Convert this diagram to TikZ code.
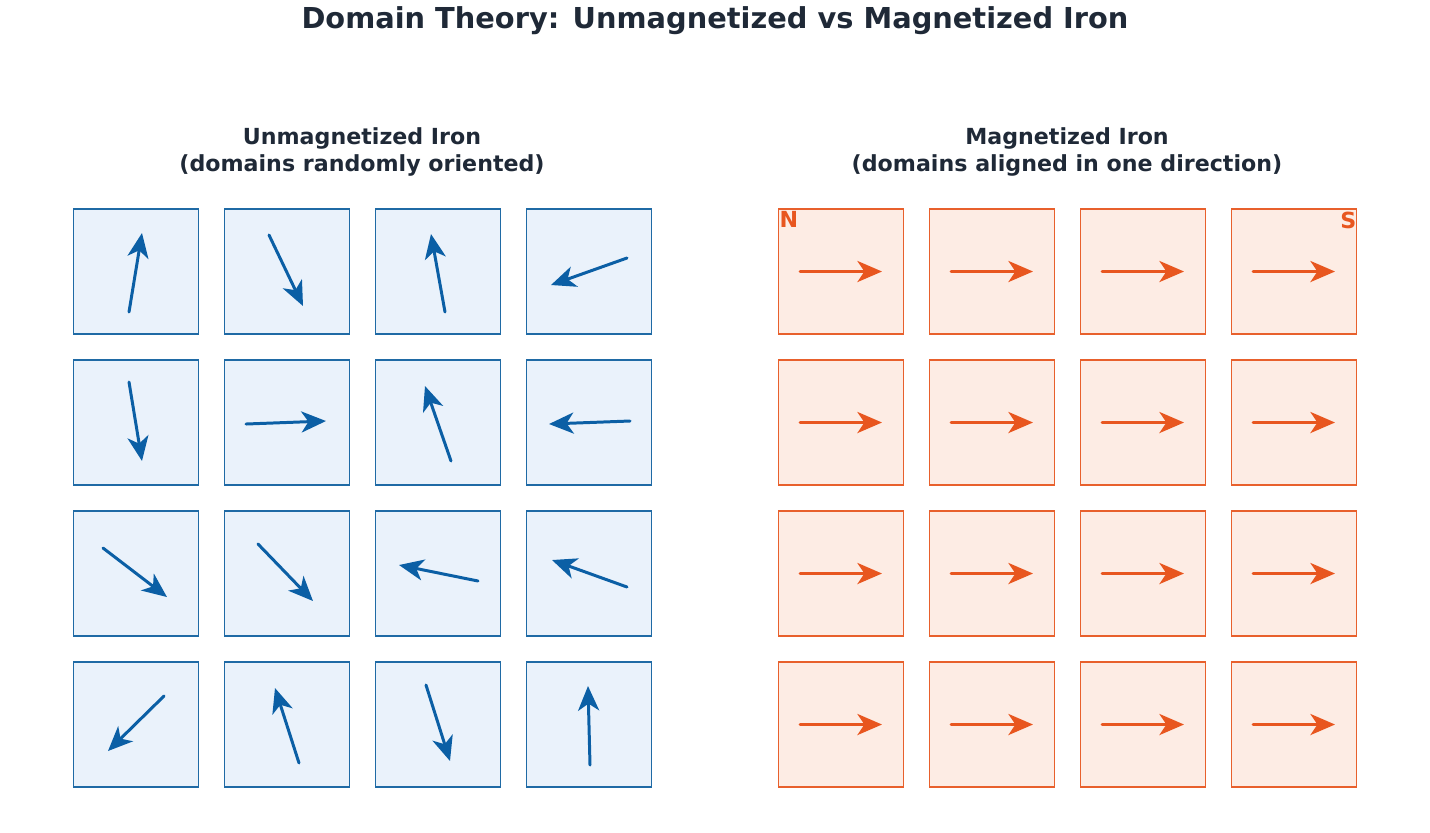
\documentclass[tikz,border=0pt]{standalone}
\usepackage{fontspec}
\setmainfont{DejaVu Sans}
\usetikzlibrary{arrows.meta}
\definecolor{ink}{HTML}{1F2937}
\definecolor{lfill}{HTML}{EAF2FB}
\definecolor{ledge}{HTML}{1F6AA5}
\definecolor{larrow}{HTML}{0B5FA5}
\definecolor{rfill}{HTML}{FDECE4}
\definecolor{redge}{HTML}{E8602C}
\definecolor{rarrow}{HTML}{E8561F}
\begin{document}
\begin{tikzpicture}[x=0.01cm, y=-0.01cm,
  lbox/.style={draw=ledge, fill=lfill, line width=0.45pt, minimum size=1.25cm, inner sep=0pt},
  rbox/.style={draw=redge, fill=rfill, line width=0.45pt, minimum size=1.25cm, inner sep=0pt},
  larr/.style={-{Stealth[length=7pt,width=6pt,inset=2pt]}, draw=larrow, line width=0.85pt, line cap=round},
  rarr/.style={-{Stealth[length=7pt,width=6pt,inset=2pt]}, draw=rarrow, line width=0.85pt, line cap=round},
  head/.style={font=\bfseries, text=ink, align=center}]
  \useasboundingbox (0,0) rectangle (1430,832);

  \node[head, font=\bfseries\fontsize{8.2}{10}\selectfont] (title) at (715,21) {Domain Theory: Unmagnetized vs Magnetized Iron};
  \node[head, font=\bfseries\fontsize{6.3}{7.8}\selectfont] (lhead) at (362,152) {Unmagnetized Iron\\(domains randomly oriented)};
  \node[head, font=\bfseries\fontsize{6.3}{7.8}\selectfont] (rhead) at (1067,152) {Magnetized Iron\\(domains aligned in one direction)};

  % domain boxes
  \foreach \r in {1,...,4} {
    \foreach \c in {1,...,4} {
      \node[lbox] (L\r\c) at ({136+151*(\c-1)},{271.5+151*(\r-1)}) {};
      \node[rbox] (R\r\c) at ({841+151*(\c-1)},{271.5+151*(\r-1)}) {};
      \coordinate (Ra\r\c) at ({800+151*(\c-1)},{271.5+151*(\r-1)});
      \coordinate (Rb\r\c) at ({882+151*(\c-1)},{271.5+151*(\r-1)});
      \draw[rarr] (Ra\r\c) -- (Rb\r\c);
    }
  }

  % random domains
  \foreach \n/\xa/\ya/\xb/\yb in {11/129/312/142/233, 12/269/235/303/306, 13/445/312/431/234, 14/627/258/551/285,
      21/129/382/142/461, 22/246/424/326/421, 23/451/461/425/386, 24/630/421/549/424,
      31/103/548/167/597, 32/258/544/313/601, 33/478/581/399/565, 34/627/587/552/560,
      41/164/696/108/751, 42/299/763/275/688, 43/426/685/450/761, 44/590/765/588/686} {
    \coordinate (La\n) at (\xa,\ya);
    \coordinate (Lb\n) at (\xb,\yb);
    \draw[larr] (La\n) -- (Lb\n);
  }

  \node[font=\bfseries\fontsize{6.3}{7}\selectfont, text=rarrow, anchor=north west, inner sep=0pt] (north) at (779,211) {N};
  \node[font=\bfseries\fontsize{6.3}{7}\selectfont, text=rarrow, anchor=north east, inner sep=0pt] (south) at (1357,211) {S};
\end{tikzpicture}
\end{document}
